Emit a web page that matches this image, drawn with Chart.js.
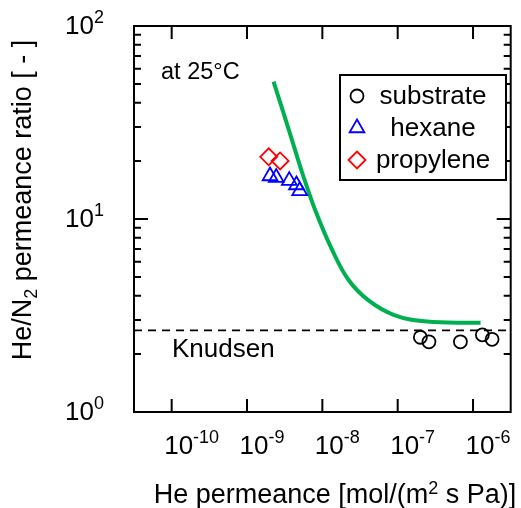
<!DOCTYPE html>
<html>
<head>
<meta charset="utf-8">
<script src="https://cdn.jsdelivr.net/npm/chart.js@4/dist/chart.umd.min.js"></script>
<style>
  html, body { margin: 0; padding: 0; background: #fff; }
  canvas { display: block; }
</style>
</head>
<body>
<canvas id="myCanvas" width="521" height="508"></canvas>
<script>
// values (x = He permeance, y = He/N2 ratio)
const xTickExps = [-10, -9, -8, -7, -6];
const yTickExps = [0, 1, 2];
const yMinorMult = [2, 3, 4, 5, 6, 7, 8, 9];

const substrateX = [2.0e-7, 2.6e-7, 6.8e-7, 1.33e-6, 1.79e-6];
const substrateY = [2.44, 2.31, 2.31, 2.51, 2.38];

const hexaneX = [2.02e-9, 2.44e-9, 3.64e-9, 4.53e-9, 5.0e-9];
const hexaneY = [16.7, 16.4, 15.8, 15.0, 14.0];

const propyleneX = [1.94e-9, 2.75e-9];
const propyleneY = [21.0, 20.0];

const modelX = [2.25e-9, 3.71e-9, 5.53e-9, 8.05e-9, 1.35e-8, 2.23e-8, 4.06e-8, 9.0e-8, 2.44e-7, 1.26e-6];
const modelY = [51.5, 27.8, 16.9, 11.1, 6.91, 4.83, 3.80, 3.18, 2.94, 2.90];

const knudsenRatio = 2.65;
const xMin = Math.pow(10, -10.5);
const xMax = Math.pow(10, -5.5);

const FONT = '"Liberation Sans", Arial, sans-serif';

function pts(xs, ys) {
  let out = [];
  for (let i = 0; i < xs.length; i++) {
    out.push({ x: xs[i], y: ys[i] });
  }
  return out;
}

// draws text pieces one after another, each [text, size, raise]
function drawParts(ctx, parts, x, y, align) {
  let total = 0;
  for (const p of parts) {
    ctx.font = p[1] + 'px ' + FONT;
    total += ctx.measureText(p[0]).width;
  }
  let cx = x;
  if (align === 'center') cx = x - total / 2;
  if (align === 'right') cx = x - total;
  ctx.textAlign = 'left';
  ctx.textBaseline = 'alphabetic';
  for (const p of parts) {
    ctx.font = p[1] + 'px ' + FONT;
    ctx.fillText(p[0], cx, y - p[2]);
    cx += ctx.measureText(p[0]).width;
  }
}

const frameAndText = {
  id: 'frameAndText',
  afterDraw(chart) {
    const ctx = chart.ctx;
    const a = chart.chartArea;
    const xs = chart.scales.x;
    const ys = chart.scales.y;
    ctx.save();
    ctx.strokeStyle = '#000';
    ctx.fillStyle = '#000';
    ctx.lineWidth = 2;
    ctx.setLineDash([]);

    // frame
    ctx.strokeRect(a.left, a.top, a.right - a.left, a.bottom - a.top);

    // ticks pointing inward
    ctx.beginPath();
    for (const e of xTickExps) {
      const px = xs.getPixelForValue(Math.pow(10, e));
      ctx.moveTo(px, a.bottom); ctx.lineTo(px, a.bottom - 13);
      ctx.moveTo(px, a.top); ctx.lineTo(px, a.top + 13);
    }
    for (const e of yTickExps) {
      const py = ys.getPixelForValue(Math.pow(10, e));
      ctx.moveTo(a.left, py); ctx.lineTo(a.left + 14, py);
      ctx.moveTo(a.right, py); ctx.lineTo(a.right - 14, py);
      if (e < 2) {
        for (const m of yMinorMult) {
          const q = ys.getPixelForValue(m * Math.pow(10, e));
          ctx.moveTo(a.left, q); ctx.lineTo(a.left + 7, q);
          ctx.moveTo(a.right, q); ctx.lineTo(a.right - 7, q);
        }
      }
    }
    ctx.stroke();

    // tick labels
    for (const e of xTickExps) {
      const px = xs.getPixelForValue(Math.pow(10, e));
      drawParts(ctx, [['10', 26, 0], [String(e), 18, 11]], px - 7.5, 454, 'left');
    }
    for (const e of yTickExps) {
      const py = ys.getPixelForValue(Math.pow(10, e));
      drawParts(ctx, [['10', 26, 0], [String(e), 18, 11]], 104, py + 8, 'right');
    }

    // axis titles
    drawParts(ctx, [['He permeance [mol/(m', 27, 0], ['2', 18, 9], [' s Pa)]', 27, 0]], 335, 503, 'center');
    ctx.save();
    ctx.translate(31, 200);
    ctx.rotate(-Math.PI / 2);
    drawParts(ctx, [['He/N', 27, 0], ['2', 18, -6], [' permeance ratio [ - ]', 27, 0]], 0, 0, 'center');
    ctx.restore();

    // notes
    drawParts(ctx, [['at 25°C', 23.5, 0]], 161, 79, 'left');
    drawParts(ctx, [['Knudsen', 26, 0]], 172, 357, 'left');

    // legend box
    ctx.fillStyle = '#fff';
    ctx.fillRect(340, 75, 166, 105);
    ctx.strokeRect(340, 75, 166, 105);
    const rowY = [96, 128, 160];
    for (let i = 0; i < 3; i++) {
      const ds = chart.data.datasets[i];
      ctx.strokeStyle = ds.borderColor;
      ctx.fillStyle = 'rgba(0,0,0,0)';
      ctx.lineWidth = ds.borderWidth;
      Chart.helpers.drawPoint(ctx, {
        pointStyle: ds.pointStyle, radius: ds.pointRadius, borderWidth: ds.borderWidth, rotation: 0
      }, 357, rowY[i]);
      ctx.fillStyle = '#000';
      ctx.font = '26px ' + FONT;
      ctx.textAlign = 'center';
      ctx.textBaseline = 'middle';
      ctx.fillText(ds.label, 433, rowY[i] + 1);
    }
    ctx.restore();
  }
};

const config = {
  type: 'scatter',
  data: {
    datasets: [
      {
        label: 'substrate',
        data: pts(substrateX, substrateY),
        pointStyle: 'circle',
        pointRadius: 6.5,
        borderColor: '#000',
        backgroundColor: 'rgba(0,0,0,0)',
        borderWidth: 1.8
      },
      {
        label: 'hexane',
        data: pts(hexaneX, hexaneY),
        pointStyle: 'triangle',
        pointRadius: 8.5,
        borderColor: '#0000ff',
        backgroundColor: 'rgba(0,0,0,0)',
        borderWidth: 1.8
      },
      {
        label: 'propylene',
        data: pts(propyleneX, propyleneY),
        pointStyle: 'rectRot',
        pointRadius: 8.5,
        borderColor: '#ff0000',
        backgroundColor: 'rgba(0,0,0,0)',
        borderWidth: 1.8
      },
      {
        label: 'model',
        data: pts(modelX, modelY),
        showLine: true,
        pointRadius: 0,
        borderColor: '#00b050',
        borderWidth: 4,
        tension: 0.4
      },
      {
        label: 'Knudsen',
        data: pts([xMin, xMax], [knudsenRatio, knudsenRatio]),
        showLine: true,
        pointRadius: 0,
        borderColor: '#000',
        borderWidth: 1.8,
        borderDash: [8, 6]
      }
    ]
  },
  options: {
    responsive: false,
    animation: false,
    devicePixelRatio: 1,
    layout: { padding: { left: 134, top: 26, right: 2, bottom: 96 } },
    plugins: { legend: { display: false }, tooltip: { enabled: false } },
    scales: {
      x: { type: 'logarithmic', min: xMin, max: xMax, display: false },
      y: { type: 'logarithmic', min: 1, max: 100, display: false }
    }
  },
  plugins: [frameAndText]
};

// draw the lines below the markers
config.data.datasets[3].order = 2;
config.data.datasets[4].order = 2;

new Chart(document.getElementById('myCanvas'), config);
</script>
</body>
</html>
